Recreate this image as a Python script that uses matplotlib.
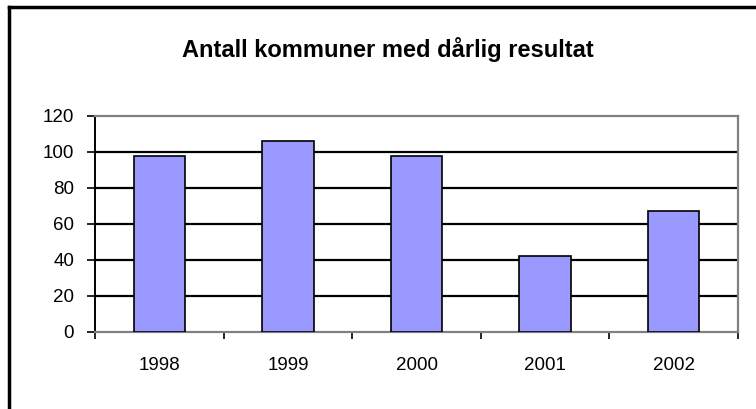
import matplotlib
matplotlib.use("Agg")
import matplotlib.pyplot as plt
from matplotlib.lines import Line2D
import numpy as np

years = ["1998", "1999", "2000", "2001", "2002"]
values = [98, 106, 98, 42, 67]
yticks = [0, 20, 40, 60, 80, 100, 120]
title = "Antall kommuner med dårlig resultat"

plt.rcParams['font.family'] = ['Liberation Sans', 'DejaVu Sans']

fig = plt.figure(figsize=(7.56, 4.09), dpi=100)
ax = fig.add_axes([95/756, 1-332/409, (738-95)/756, (332-116)/409])

x = np.arange(len(years))
ax.bar(x, values, width=0.4, color="#9999FF", edgecolor="black", linewidth=1.2, zorder=3)

ax.set_xlim(-0.5, len(years)-0.5)
ax.set_ylim(0, 120)
ax.set_yticks(yticks)
ax.set_yticklabels([str(v) for v in yticks], fontsize=13.5)
ax.set_xticks(x)
ax.set_xticklabels(years, fontsize=13.5)
ax.set_xticks(np.arange(-0.5, len(years)), minor=True)
ax.tick_params(axis='x', which='major', length=0, pad=18)
ax.tick_params(axis='x', which='minor', length=5, width=1.2, direction='out', color='black')
ax.tick_params(axis='y', length=6, width=1.2, direction='out', pad=9, color='black')

for v in yticks[1:-1]:
    ax.axhline(v, color='black', linewidth=1.6, zorder=1)

ax.spines['left'].set_color('black')
ax.spines['left'].set_linewidth(1.4)
for s in ['top', 'right', 'bottom']:
    ax.spines[s].set_color('#808080')
    ax.spines[s].set_linewidth(1.6)

fig.text(388/756, 1-50/409, title, ha='center', va='center', fontsize=17, fontweight='bold')

# figure border (top and left visible)
fig.add_artist(Line2D([9/756, 1], [1-7/409, 1-7/409], transform=fig.transFigure, color='black', linewidth=2.5))
fig.add_artist(Line2D([9/756, 9/756], [0, 1-7/409], transform=fig.transFigure, color='black', linewidth=2.5))

fig.savefig("out.png", dpi=100)
